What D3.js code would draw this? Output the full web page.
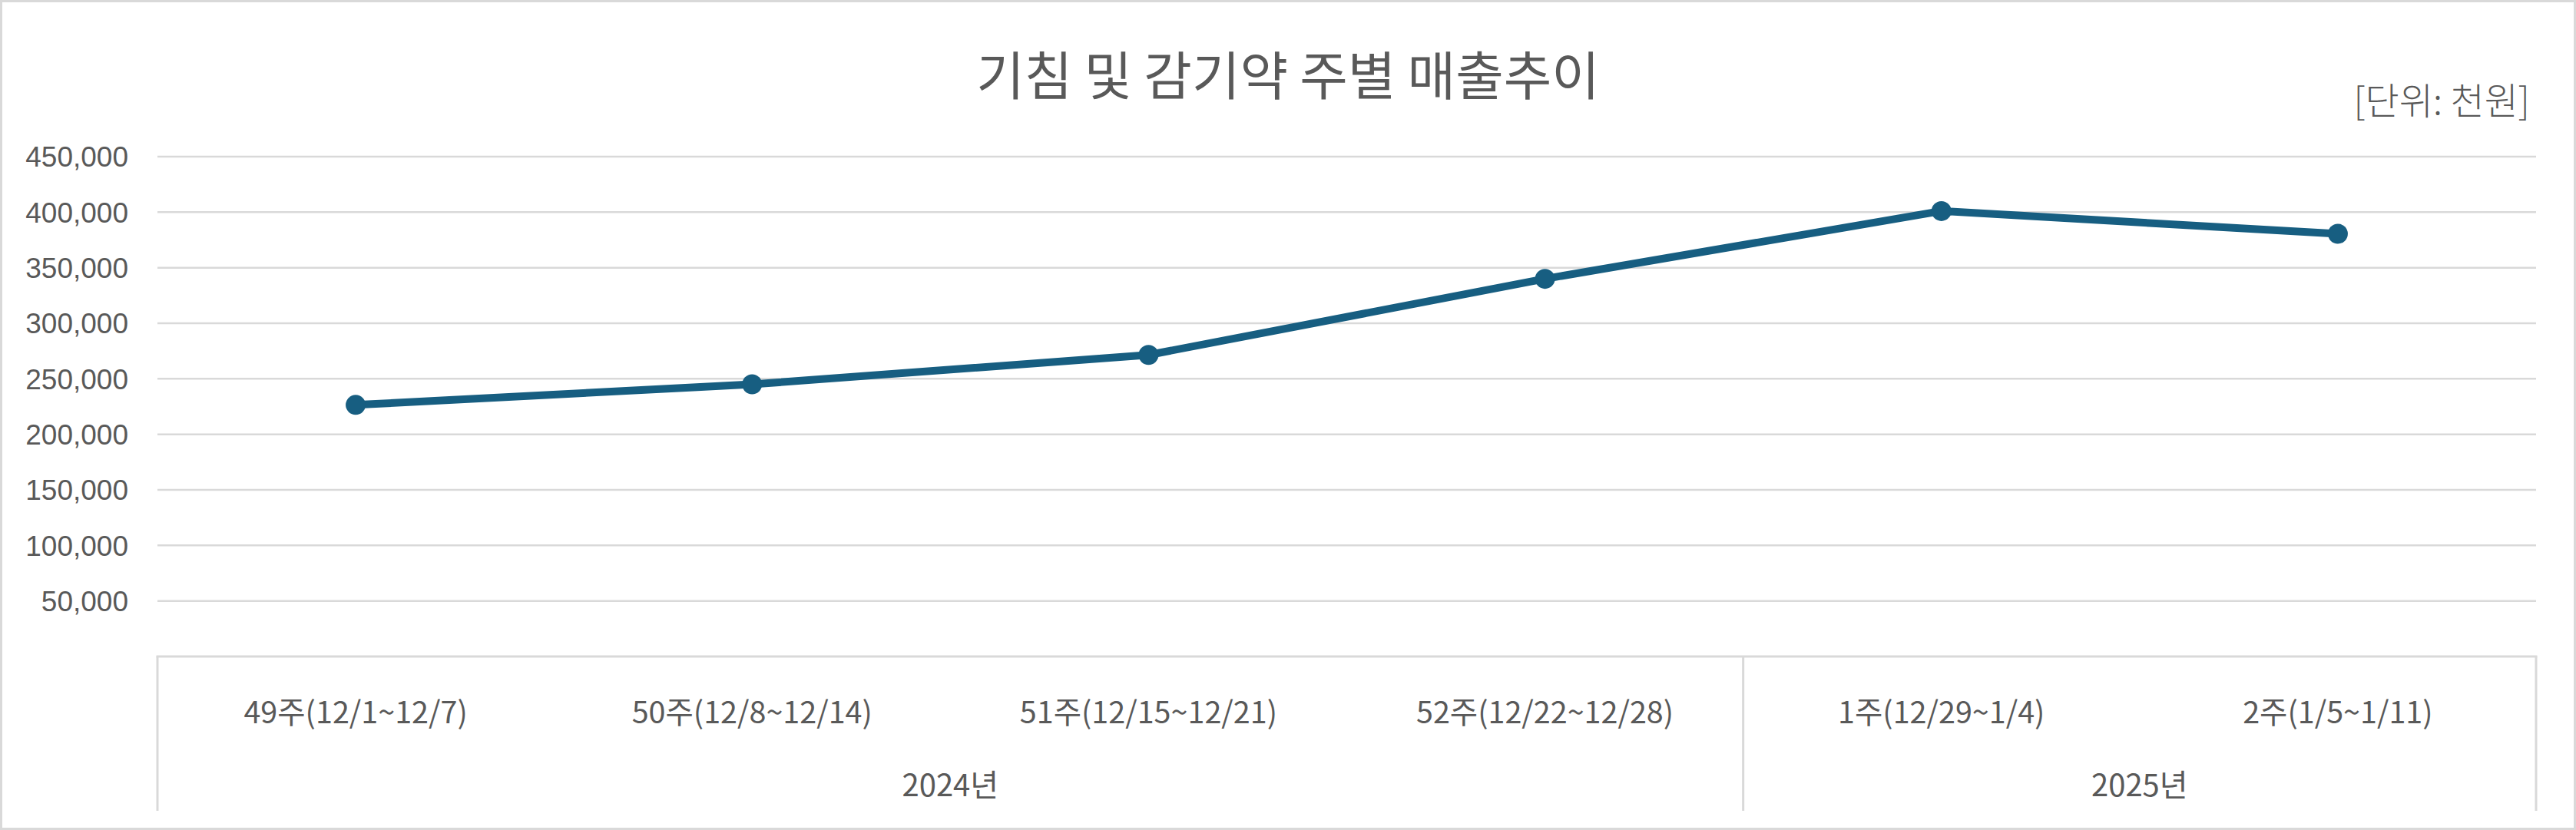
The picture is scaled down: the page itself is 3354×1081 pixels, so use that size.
<!DOCTYPE html>
<html>
<head>
<meta charset="utf-8">
<script src="https://cdn.jsdelivr.net/npm/d3@7"></script>
<style>
  html, body { margin: 0; padding: 0; background: #ffffff; }
  svg { display: block; }
</style>
</head>
<body>
<svg id="chart" width="3354" height="1081"></svg>
<script>
// ---- data ----
const chartTitle = "기침 및 감기약 주별 매출추이";
const unitLabel = "[단위: 천원]";
const categories = ["49주(12/1~12/7)", "50주(12/8~12/14)", "51주(12/15~12/21)", "52주(12/22~12/28)", "1주(12/29~1/4)", "2주(1/5~1/11)"];
const sales = [226500, 245000, 271500, 340000, 401000, 380500];
const yearLabels = ["2024년", "2025년"];
const yearCounts = [4, 2];
const yTicks = [50000, 100000, 150000, 200000, 250000, 300000, 350000, 400000, 450000];

// ---- layout ----
const W = 3354, H = 1081;
const plot = { left: 205, right: 3302, top: 204, bottom: 855 };
const boxBottom = 1056;
const gridColor = "#d9d9d9";
const textColor = "#595959";
const lineColor = "#175e81";
const cjk = "'Noto Sans CJK KR', 'Noto Sans', sans-serif";

const svg = d3.select("#chart");

// outer border
svg.append("rect")
  .attr("x", 1.5).attr("y", 1.5)
  .attr("width", W - 3).attr("height", H - 3)
  .attr("fill", "#ffffff")
  .attr("stroke", gridColor).attr("stroke-width", 3);

const x = d3.scaleBand().domain(categories).range([plot.left, plot.right]).paddingInner(0).paddingOuter(0);
const y = d3.scaleLinear().domain([0, 450000]).range([plot.bottom, plot.top]);

// gridlines
svg.append("g").selectAll("line").data(yTicks).join("line")
  .attr("x1", plot.left).attr("x2", plot.right)
  .attr("y1", d => y(d)).attr("y2", d => y(d))
  .attr("stroke", gridColor).attr("stroke-width", 2.5);

// y axis labels via d3 axis
const yAxis = d3.axisLeft(y).tickValues(yTicks).tickFormat(d3.format(",")).tickSize(0).tickPadding(0);
const yg = svg.append("g").attr("transform", `translate(167,0)`).call(yAxis);
yg.select(".domain").remove();
yg.selectAll("text")
  .attr("font-family", "'Liberation Sans', Arial, sans-serif")
  .attr("font-size", 37)
  .attr("fill", textColor)
  .attr("dy", "0.35em");

// category box (multi-level axis)
const boxG = svg.append("g").attr("stroke", gridColor).attr("stroke-width", 3).attr("fill", "none");
boxG.append("line").attr("x1", plot.left - 1.5).attr("x2", plot.right + 1.5).attr("y1", plot.bottom).attr("y2", plot.bottom);
const groupEdges = [0];
yearCounts.forEach(c => groupEdges.push(groupEdges[groupEdges.length - 1] + c));
const edgeX = i => i < categories.length ? x(categories[i]) : x(categories[categories.length - 1]) + x.bandwidth();
boxG.selectAll("line.edge").data(groupEdges).join("line").attr("class", "edge")
  .attr("x1", d => edgeX(d)).attr("x2", d => edgeX(d))
  .attr("y1", plot.bottom).attr("y2", boxBottom);

// category labels
svg.append("g").selectAll("text").data(categories).join("text")
  .attr("x", d => x(d) + x.bandwidth() / 2)
  .attr("y", 924)
  .attr("text-anchor", "middle")
  .attr("dominant-baseline", "central")
  .attr("font-family", "'Liberation Sans Narrow', 'Noto Sans CJK KR', sans-serif")
  .attr("font-size", 39.5)
  .attr("fill", textColor)
  .text(d => d);

// year labels
svg.append("g").selectAll("text").data(yearLabels).join("text")
  .attr("x", (d, i) => (edgeX(groupEdges[i]) + edgeX(groupEdges[i + 1])) / 2)
  .attr("y", 1020)
  .attr("text-anchor", "middle")
  .attr("dominant-baseline", "central")
  .attr("font-family", "'Liberation Sans Narrow', 'Noto Sans CJK KR', sans-serif")
  .attr("font-size", 40)
  .attr("fill", textColor)
  .text(d => d);

// line
const line = d3.line().x((d, i) => x(categories[i]) + x.bandwidth() / 2).y(d => y(d));
svg.append("path").datum(sales)
  .attr("d", line)
  .attr("fill", "none")
  .attr("stroke", lineColor)
  .attr("stroke-width", 10)
  .attr("stroke-linejoin", "round");

svg.append("g").selectAll("circle").data(sales).join("circle")
  .attr("cx", (d, i) => x(categories[i]) + x.bandwidth() / 2)
  .attr("cy", d => y(d))
  .attr("r", 13)
  .attr("fill", lineColor);

// title
svg.append("text")
  .attr("x", 1677).attr("y", 94)
  .attr("text-anchor", "middle")
  .attr("dominant-baseline", "central")
  .attr("font-family", cjk)
  .attr("font-size", 68)
  .attr("fill", textColor)
  .text(chartTitle);

// unit
svg.append("text")
  .attr("x", 3294).attr("y", 128)
  .attr("text-anchor", "end")
  .attr("dominant-baseline", "central")
  .attr("font-family", cjk)
  .attr("font-size", 48)
  .attr("font-weight", 300)
  .attr("fill", textColor)
  .text(unitLabel);
</script>
</body>
</html>
